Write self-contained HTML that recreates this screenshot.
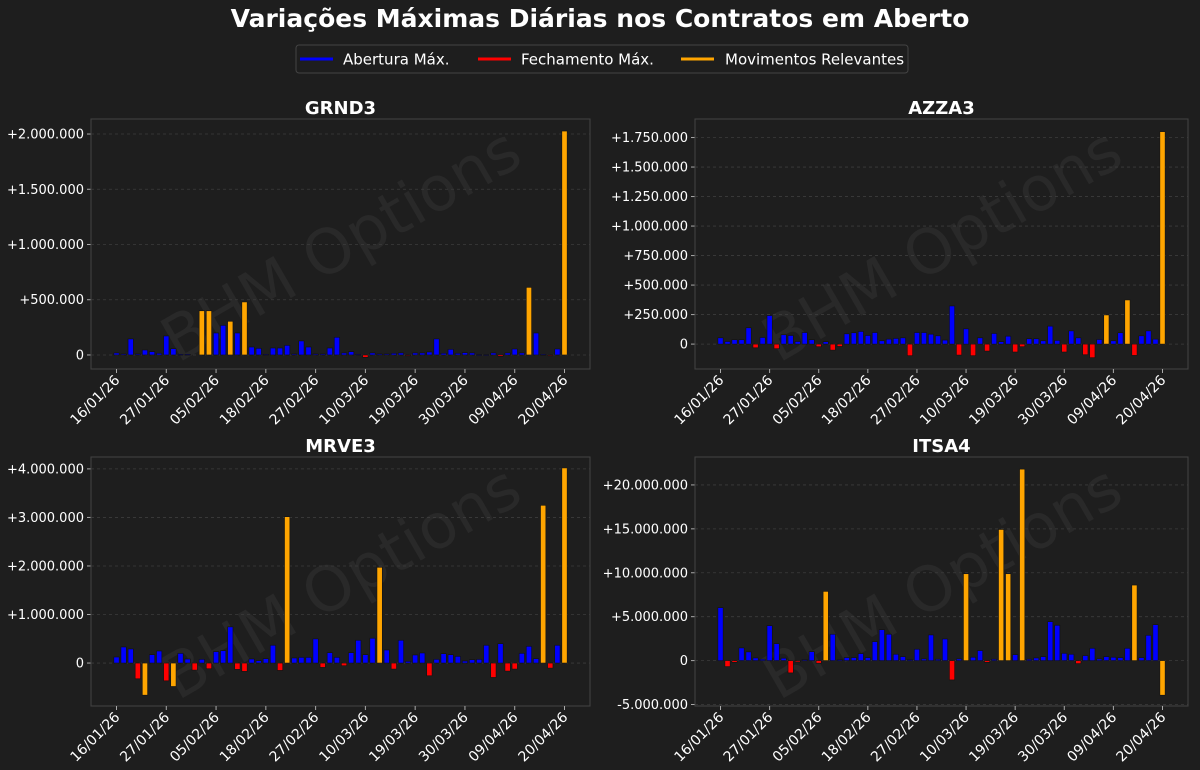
<!DOCTYPE html>
<html><head><meta charset="utf-8">
<style>
html,body{margin:0;padding:0;background:#1e1e1e;}
svg{display:block;font-family:"DejaVu Sans","Liberation Sans",sans-serif;}
</style></head>
<body>
<svg id="chart" width="1200" height="770" viewBox="0 0 1200 770" xmlns="http://www.w3.org/2000/svg">
<rect width="1200" height="770" fill="#1e1e1e"/>
<text x="600" y="27" text-anchor="middle" fill="#ffffff" font-size="25" font-weight="bold">Variações Máximas Diárias nos Contratos em Aberto</text>
<g>
<rect x="296" y="45" width="612" height="28" rx="3" fill="#1e1e1e" stroke="#444" stroke-width="1"/>
<g><line x1="300" y1="59" x2="333" y2="59" stroke="#0000ff" stroke-width="3"/><text x="343" y="64.5" fill="#ffffff" font-size="15">Abertura Máx.</text></g>
<g><line x1="478" y1="59" x2="511" y2="59" stroke="#ff0000" stroke-width="3"/><text x="521" y="64.5" fill="#ffffff" font-size="15">Fechamento Máx.</text></g>
<g><line x1="681" y1="59" x2="714" y2="59" stroke="#ffa500" stroke-width="3"/><text x="725" y="64.5" fill="#ffffff" font-size="15">Movimentos Relevantes</text></g>
</g>
<g id="panels"></g>
</svg>
<script>
const tickIdx = [0,7,14,21,28,35,42,49,56,63];
const tickLabels = ["16/01/26","27/01/26","05/02/26","18/02/26","27/02/26","10/03/26","19/03/26","30/03/26","09/04/26","20/04/26"];

const grnd3Values = [18000,9000,145000,9000,45000,30000,15000,172000,57000,6000,6000,0,400000,400000,199000,268000,305000,199000,480000,72000,60000,6000,63000,63000,87000,9000,127000,72000,9000,9000,63000,160000,18000,30000,6000,-21000,18000,9000,9000,15000,18000,-3000,18000,18000,27000,145000,15000,51000,15000,21000,18000,3000,3000,18000,-12000,18000,54000,18000,612000,199000,5000,-3000,54000,2027000];
const grnd3Relevant = [12,13,16,18,58,63];
const grnd3Ticks = [0,500000,1000000,1500000,2000000];

const azza3Values = [53000,22000,37000,37000,138000,-31000,56000,242000,-39000,79000,73000,22000,98000,37000,-22000,20000,-51000,-20000,87000,96000,107000,73000,98000,28000,42000,48000,53000,-98000,98000,98000,84000,70000,34000,323000,-93000,129000,-98000,53000,-59000,90000,20000,67000,-67000,-22000,45000,45000,28000,152000,31000,-67000,112000,53000,-90000,-115000,39000,247000,28000,96000,374000,-96000,70000,112000,42000,1800000];
const azza3Relevant = [55,58,63];
const azza3Ticks = [0,250000,500000,750000,1000000,1250000,1500000,1750000];

const mrve3Values = [124000,331000,290000,-324000,-662000,172000,248000,-366000,-483000,200000,83000,-145000,76000,-117000,235000,255000,745000,-131000,-172000,83000,48000,90000,366000,-152000,3015000,104000,117000,117000,497000,-90000,214000,117000,-55000,214000,469000,172000,511000,1973000,269000,-124000,469000,35000,166000,207000,-262000,76000,193000,172000,138000,41000,69000,76000,366000,-297000,400000,-166000,-124000,200000,345000,90000,3250000,-104000,366000,4020000];
const mrve3Relevant = [4,8,24,37,60,63];
const mrve3Ticks = [0,1000000,2000000,3000000,4000000];

const itsa4Values = [6030000,-680000,-190000,1440000,990000,300000,150000,3980000,1930000,270000,-1400000,-150000,110000,1020000,-300000,7880000,3000000,110000,340000,340000,800000,340000,2160000,3520000,3000000,720000,450000,110000,1290000,190000,2920000,150000,2460000,-2200000,190000,9890000,380000,1140000,-190000,150000,14930000,9890000,680000,21800000,150000,300000,450000,4430000,4020000,830000,720000,-340000,570000,1400000,190000,450000,380000,340000,1400000,8600000,340000,2880000,4090000,-3940000];
const itsa4Relevant = [15,35,40,41,43,59,63];
const itsa4Ticks = [-5000000,0,5000000,10000000,15000000,20000000];

const panels = [
  {name:"grnd3", title:"GRND3", values:grnd3Values, relevant:grnd3Relevant, ticks:grnd3Ticks,
   left:91, right:590, top:119, bottom:369, yMin:-127000, yMax:2136000, titleY:114},
  {name:"azza3", title:"AZZA3", values:azza3Values, relevant:azza3Relevant, ticks:azza3Ticks,
   left:695, right:1188, top:119, bottom:369, yMin:-211000, yMax:1907000, titleY:114},
  {name:"mrve3", title:"MRVE3", values:mrve3Values, relevant:mrve3Relevant, ticks:mrve3Ticks,
   left:91, right:590, top:457, bottom:706, yMin:-885000, yMax:4245000, titleY:452},
  {name:"itsa4", title:"ITSA4", values:itsa4Values, relevant:itsa4Relevant, ticks:itsa4Ticks,
   left:695, right:1188, top:457, bottom:706, yMin:-5170000, yMax:23180000, titleY:452}
];

function fmt(v){
  if(v===0) return "0";
  const s = Math.abs(v).toString().replace(/\B(?=(\d{3})+(?!\d))/g,".");
  return (v>0?"+":"-")+s;
}
const NS="http://www.w3.org/2000/svg";
function mk(tag, attrs, parent){
  const e=document.createElementNS(NS,tag);
  for(const k in attrs) e.setAttribute(k,attrs[k]);
  parent.appendChild(e); return e;
}
const root=document.getElementById("panels");
panels.forEach(p=>{
  const g=mk("g",{},root);
  
  
  const n=p.values.length;
  const pad=25.5;
  const step=(p.right-p.left-2*pad)/(n-1);
  const xS=i=>p.left+pad+i*step;
  const yS=v=>p.bottom-(v-p.yMin)/(p.yMax-p.yMin)*(p.bottom-p.top);
  const cx=(p.left+p.right)/2, cy=(p.top+p.bottom)/2;
  const wm=mk("text",{x:cx,y:cy+22,"text-anchor":"middle","font-size":"62",fill:"#292929",transform:`rotate(-30 ${cx} ${cy})`},g);
  wm.textContent="BHM Options";
  
  
  const t=mk("text",{x:cx,y:p.titleY,"text-anchor":"middle",fill:"#fff","font-size":"18","font-weight":"bold"},g);
  t.textContent=p.title;
  
  
  p.ticks.forEach(v=>{
    const y=yS(v);
    const gl=mk("line",{x1:p.left,x2:p.right,y1:y,y2:y,stroke:"#3c3c3c","stroke-dasharray":"3,3","stroke-width":"0.8"},g);
    
    
    mk("line",{x1:p.left-4,x2:p.left,y1:y,y2:y,stroke:"#aaa","stroke-width":"1"},g);
    const tl=mk("text",{x:p.left-7,y:y+4.5,"text-anchor":"end",fill:"#fff","font-size":"13"},g);
    tl.textContent=fmt(v);
    
    
  });
  const bw=step*0.75;
  const y0=yS(0);
  p.values.forEach((v,i)=>{
    if(v===0) return;
    const col=p.relevant.includes(i)?"#ffa500":(v>0?"#0000ff":"#ff0000");
    const y=yS(v);
    const r=mk("rect",{x:xS(i)-bw/2,y:Math.min(y,y0),width:bw,height:Math.max(0.8,Math.abs(y-y0)),fill:col,stroke:"#111","stroke-width":"0.6"},g);
    
    
  });
  const fr=mk("rect",{x:p.left,y:p.top,width:p.right-p.left,height:p.bottom-p.top,fill:"none",stroke:"#444","stroke-width":"1"},g);
  
  
  tickIdx.forEach((idx,k)=>{
    const x=xS(idx);
    mk("line",{x1:x,x2:x,y1:p.bottom,y2:p.bottom+4,stroke:"#aaa","stroke-width":"1"},g);
    const xl=mk("text",{x:x+4,y:p.bottom+12,"text-anchor":"end",fill:"#fff","font-size":"14",transform:`rotate(-45 ${x+4} ${p.bottom+12})`},g);
    xl.textContent=tickLabels[k];
    
    
  });
});
</script>
</body></html>
